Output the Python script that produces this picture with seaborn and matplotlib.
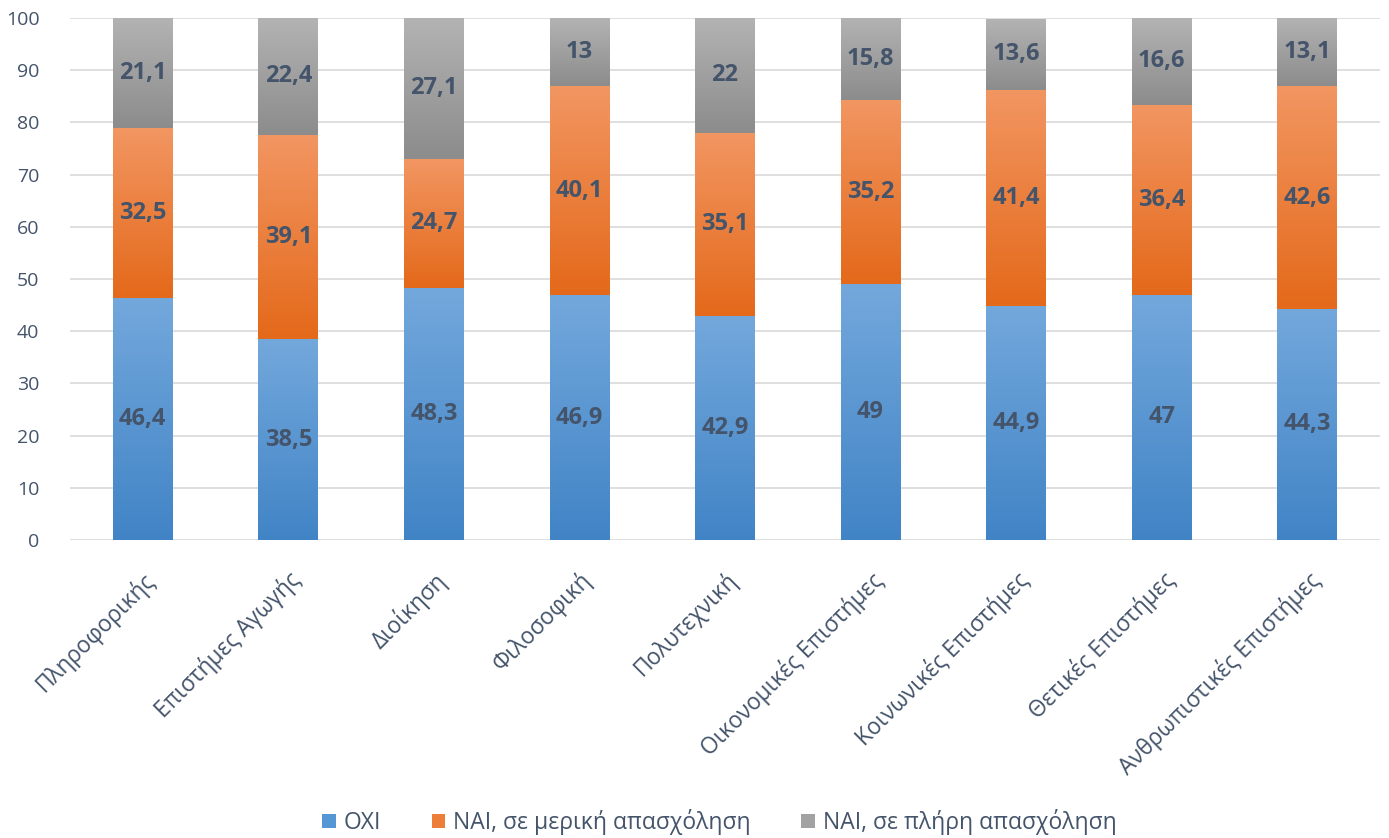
import numpy as np
import pandas as pd
import matplotlib
matplotlib.use("Agg")
import matplotlib.pyplot as plt
import seaborn as sns
from matplotlib.colors import LinearSegmentedColormap
from matplotlib.patches import Patch

# =========================
# Data
# =========================
faculties = ["Πληροφορικής", "Επιστήμες Αγωγής", "Διοίκηση", "Φιλοσοφική",
             "Πολυτεχνική", "Οικονομικές Επιστήμες", "Κοινωνικές Επιστήμες",
             "Θετικές Επιστήμες", "Ανθρωπιστικές Επιστήμες"]
series_names = ["ΟΧΙ", "ΝΑΙ, σε μερική απασχόληση", "ΝΑΙ, σε πλήρη απασχόληση"]
oxi = [46.4, 38.5, 48.3, 46.9, 42.9, 49, 44.9, 47, 44.3]
nai_partial = [32.5, 39.1, 24.7, 40.1, 35.1, 35.2, 41.4, 36.4, 42.6]
nai_full = [21.1, 22.4, 27.1, 13, 22, 15.8, 13.6, 16.6, 13.1]
y_ticks = list(range(0, 101, 10))

# gradient colours (bottom, top) per series
grad_colors = [("#4184C6", "#73A8DC"), ("#E4691A", "#F29662"), ("#8C8C8C", "#B3B3B3")]
legend_colors = ["#5597D4", "#EC7E3A", "#A2A2A2"]
text_color = "#44546A"

df = pd.DataFrame({"Faculty": faculties, series_names[0]: oxi,
                   series_names[1]: nai_partial, series_names[2]: nai_full})

sns.set_style("white")
plt.rcParams['font.family'] = ['Open Sans', 'DejaVu Sans']

fig = plt.figure(figsize=(13.89, 8.38), dpi=100)
ax = fig.add_axes([0.0504, 0.3556, 0.9431, 0.6229])

# =========================
# Stacked bars (gradient fill per segment)
# =========================
bottom = np.zeros(len(faculties))
for i, name in enumerate(series_names):
    n_before = len(ax.patches)
    sns.barplot(data=df, x="Faculty", y=name, bottom=bottom, width=0.41,
                color=legend_colors[i], linewidth=0, ax=ax)
    cmap = LinearSegmentedColormap.from_list(f"g{i}", list(grad_colors[i]))
    grad = np.linspace(0, 1, 256).reshape(-1, 1)
    for p in ax.patches[n_before:]:
        x0, y0 = p.get_x(), p.get_y()
        w, h = p.get_width(), p.get_height()
        ax.imshow(grad, cmap=cmap, origin="lower", aspect="auto",
                  extent=(x0, x0 + w, y0, y0 + h), zorder=2)
        p.set_alpha(0)
    vals = df[name].to_numpy()
    for j, v in enumerate(vals):
        lbl = f"{v:g}".replace(".", ",")
        ax.text(j, bottom[j] + v / 2, lbl, ha="center", va="center",
                fontsize=17, fontweight="bold", color=text_color, zorder=3)
    bottom = bottom + vals

# =========================
# Axes styling
# =========================
ax.set_xlim(-0.5, len(faculties) - 0.5)
ax.set_ylim(0, 100)
ax.set_yticks(y_ticks)
ax.yaxis.grid(True, color="#D9D9D9", linewidth=1.2, zorder=0)
ax.set_axisbelow(True)
for s in ax.spines.values():
    s.set_visible(False)
ax.set_xlabel("")
ax.set_ylabel("")
ax.tick_params(axis="both", length=0, labelsize=14, colors=text_color)
ax.tick_params(axis="y", pad=22)
ax.set_xticks(range(len(faculties)))
ax.set_xticklabels(faculties, rotation=45, ha="right", va="top",
                   rotation_mode="anchor", fontsize=16.3, color=text_color)
ax.tick_params(axis="x", pad=20)

handles = [Patch(facecolor=c, edgecolor="none") for c in legend_colors]
fig.legend(handles, series_names, loc="lower center", ncol=3, frameon=False,
           bbox_to_anchor=(0.518, -0.021), fontsize=16.5, labelcolor=text_color,
           handlelength=0.6, handleheight=0.6, handletextpad=0.35, columnspacing=2.2)

fig.savefig("out.png", dpi=100)
